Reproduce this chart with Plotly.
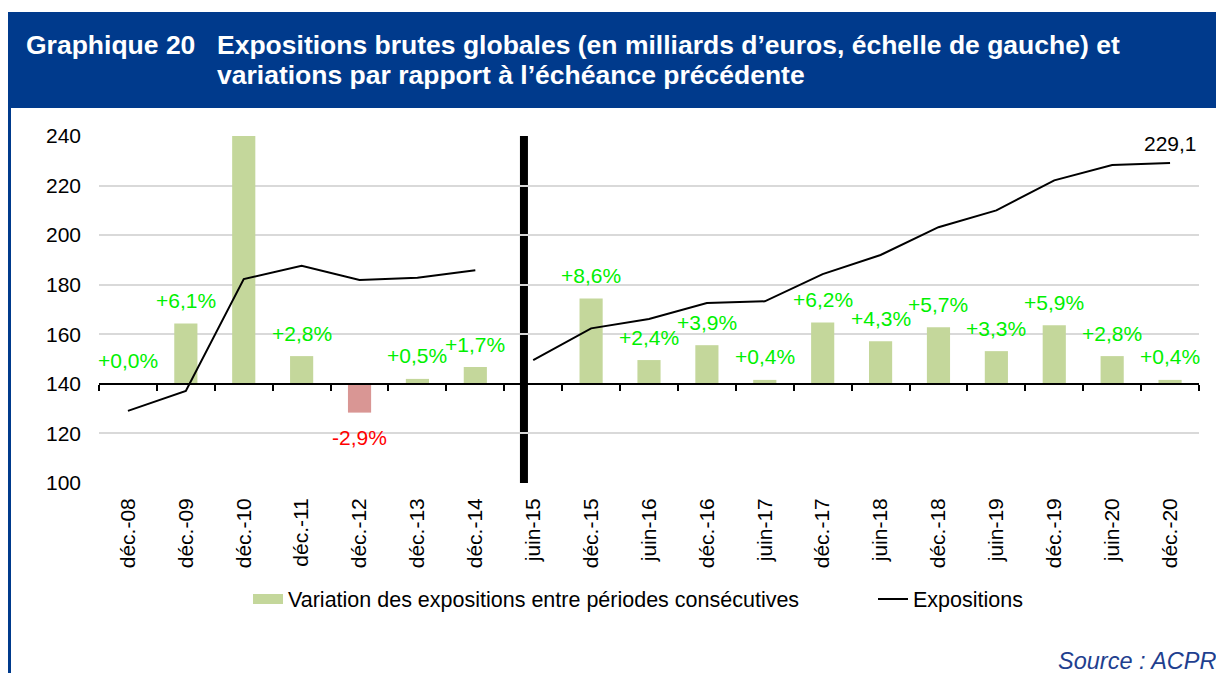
import plotly.graph_objects as go

# ---------------- data ----------------
categories = ["déc.-08", "déc.-09", "déc.-10", "déc.-11", "déc.-12", "déc.-13", "déc.-14",
              "juin-15", "déc.-15", "juin-16", "déc.-16", "juin-17", "déc.-17", "juin-18",
              "déc.-18", "juin-19", "déc.-19", "juin-20", "déc.-20"]
expositions = [129.1, 137.1, 182.3, 187.6, 181.9, 182.8, 185.8,
               149.6, 162.4, 166.2, 172.6, 173.3, 184.3, 192.0,
               203.2, 210.0, 222.1, 228.3, 229.1]
variations = [0.0, 6.1, 33.0, 2.8, -2.9, 0.5, 1.7,
              None, 8.6, 2.4, 3.9, 0.4, 6.2, 4.3,
              5.7, 3.3, 5.9, 2.8, 0.4]
variation_labels = ["+0,0%", "+6,1%", "", "+2,8%", "-2,9%", "+0,5%", "+1,7%",
                    "", "+8,6%", "+2,4%", "+3,9%", "+0,4%", "+6,2%", "+4,3%",
                    "+5,7%", "+3,3%", "+5,9%", "+2,8%", "+0,4%"]
last_label = "229,1"
y_ticks = [100, 120, 140, 160, 180, 200, 220, 240]
split = 7  # series break before juin-15

# ---------------- style ----------------
FONT = "Liberation Sans, Arial, sans-serif"
BLUE = "#003A8C"
GREEN_BAR = "#C4D79B"
RED_BAR = "#D99694"
GREEN_TXT = "#00F000"
RED_TXT = "#FF0000"
OFF = 8                      # page body margin
W, H = 1224 - OFF, 673 - OFF
PL, PR, PT, PB = 99, 1199, 136, 483   # plot area in page pixels
Y_RANGE = [100, 240]
PCT_RANGE = [-10, 25]        # 0 % aligned with 140
BREAK_X = 6.84


def px_x(p):
    return (p - PL) / (PR - PL)


def px_y(p):
    return (PB - p) / (PB - PT)


fig = go.Figure()

# helper (invisible) trace to anchor the main subplot
fig.add_trace(go.Scatter(
    x=categories, y=expositions, xaxis="x", yaxis="y",
    mode="lines", opacity=0, showlegend=False, hoverinfo="skip"))

bar_colors = [RED_BAR if (v is not None and v < 0) else GREEN_BAR for v in variations]
fig.add_trace(go.Bar(
    x=categories, y=variations, xaxis="x", yaxis="y2",
    marker=dict(color=bar_colors, line=dict(width=0)), width=0.4,
    name="Variation des expositions entre périodes consécutives",
    showlegend=False, hoverinfo="skip"))

# legend entry for the bars (wide flat swatch as in the original)
fig.add_trace(go.Scatter(
    x=[categories[0]], y=[None], xaxis="x", yaxis="y2", mode="lines",
    line=dict(color=GREEN_BAR, width=11), legend="legend",
    name="Variation des expositions entre périodes consécutives", hoverinfo="skip"))

fig.add_trace(go.Scatter(
    x=categories[:split], y=expositions[:split], xaxis="x", yaxis="y3",
    mode="lines", line=dict(color="black", width=2), legend="legend2",
    name="Expositions", hoverinfo="skip"))
fig.add_trace(go.Scatter(
    x=categories[split:], y=expositions[split:], xaxis="x", yaxis="y3",
    mode="lines", line=dict(color="black", width=2),
    name="Expositions", showlegend=False, hoverinfo="skip"))

# invisible helper trace so the decorative axis at 140 gets its categories
fig.add_trace(go.Scatter(
    x=categories, y=expositions, xaxis="x2", yaxis="y",
    mode="lines", opacity=0, showlegend=False, hoverinfo="skip"))

annotations = []
for c, v, lab in zip(categories, variations, variation_labels):
    if v is None or lab == "":
        continue
    neg = v < 0
    annotations.append(dict(
        x=c, y=v, xref="x", yref="y2", text=lab, showarrow=False,
        yshift=-25 if neg else 23, yanchor="middle",
        font=dict(family=FONT, size=21, color=RED_TXT if neg else GREEN_TXT)))

annotations.append(dict(
    x=categories[-1], y=expositions[-1], xref="x", yref="y3", text=last_label,
    showarrow=False, yshift=20, yanchor="middle",
    font=dict(family=FONT, size=21, color="black")))

# header texts
TITLE_SIZE = 26.5
annotations.append(dict(
    x=px_x(24), y=px_y(45), xref="paper", yref="paper", xanchor="left", yanchor="middle",
    text="<b>Graphique 20</b>", showarrow=False,
    font=dict(family=FONT, size=TITLE_SIZE, color="white")))
annotations.append(dict(
    x=px_x(215), y=px_y(45), xref="paper", yref="paper", xanchor="left", yanchor="middle",
    text="<b>Expositions brutes globales (en milliards d’euros, échelle de gauche) et</b>",
    showarrow=False, font=dict(family=FONT, size=TITLE_SIZE, color="white")))
annotations.append(dict(
    x=px_x(215), y=px_y(75), xref="paper", yref="paper", xanchor="left", yanchor="middle",
    text="<b>variations par rapport à l’échéance précédente</b>",
    showarrow=False, font=dict(family=FONT, size=TITLE_SIZE, color="white")))
annotations.append(dict(
    x=px_x(1218), y=px_y(661), xref="paper", yref="paper", xanchor="right", yanchor="middle",
    text="<i>Source : ACPR</i>", showarrow=False,
    font=dict(family=FONT, size=23.5, color="#1F3F8F")))

shapes = [
    dict(type="rect", xref="paper", yref="paper",
         x0=px_x(8), x1=px_x(1240), y0=px_y(108), y1=px_y(12),
         fillcolor=BLUE, line=dict(width=0), layer="above"),
    dict(type="line", xref="paper", yref="paper",
         x0=px_x(9.5), x1=px_x(9.5), y0=px_y(690), y1=px_y(108),
         line=dict(color=BLUE, width=3)),
    dict(type="line", xref="x", yref="paper", x0=BREAK_X, x1=BREAK_X, y0=0, y1=1,
         line=dict(color="black", width=8), layer="below"),
]

axis_pos = (140 - Y_RANGE[0]) / (Y_RANGE[1] - Y_RANGE[0])
legend_style = dict(orientation="h", xanchor="left", yanchor="middle",
                    font=dict(family=FONT, size=21.5, color="black"),
                    bgcolor="rgba(0,0,0,0)", itemwidth=30, borderwidth=0)

fig.update_layout(
    width=W, height=H,
    margin=dict(l=PL - OFF, r=1224 - PR, t=PT - OFF, b=673 - PB, pad=0),
    paper_bgcolor="white", plot_bgcolor="rgba(0,0,0,0)",
    font=dict(family=FONT, size=21, color="black"),
    barmode="overlay",
    showlegend=True,
    legend=dict(x=px_x(248), y=px_y(599), **legend_style),
    legend2=dict(x=px_x(873), y=px_y(599), **legend_style),
    xaxis=dict(type="category", categoryorder="array", categoryarray=categories,
               range=[-0.5, len(categories) - 0.5], showgrid=False, zeroline=False,
               showline=False, ticks="", tickangle=-90, ticklabelstandoff=10,
               tickfont=dict(family=FONT, size=21, color="black")),
    xaxis2=dict(type="category", categoryorder="array", categoryarray=categories,
                range=[-0.5, len(categories) - 0.5], overlaying="x", anchor="free",
                position=axis_pos, showgrid=False, zeroline=False,
                showline=True, linecolor="black", linewidth=2,
                ticks="outside", tickson="boundaries", ticklen=6, tickwidth=2,
                tickcolor="black", showticklabels=False),
    yaxis=dict(range=Y_RANGE, tickvals=y_ticks, showgrid=True, gridcolor="#D9D9D9",
               gridwidth=2, zeroline=False, showline=False, ticks="",
               ticklabelstandoff=17, tickfont=dict(family=FONT, size=21, color="black")),
    yaxis2=dict(range=PCT_RANGE, overlaying="y", anchor="x", visible=False, showgrid=False),
    yaxis3=dict(range=Y_RANGE, overlaying="y", anchor="x", visible=False, showgrid=False),
    annotations=annotations,
    shapes=shapes,
)

fig.write_html("out.html")
